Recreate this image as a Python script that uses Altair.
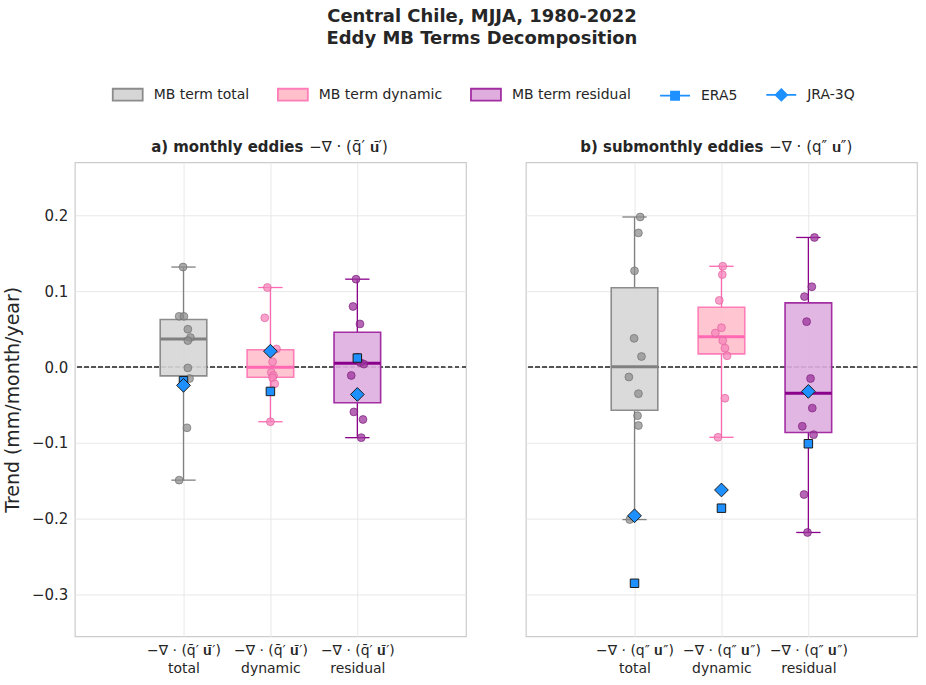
import altair as alt
import pandas as pd

# ---------------- data ----------------
categories = ["total", "dynamic", "residual"]

# panel a) monthly eddies
a_total = [0.132, 0.067, 0.067, 0.050, 0.039, 0.035, -0.001, -0.015, -0.080, -0.149]
a_dynamic = [0.105, 0.065, 0.024, 0.020, 0.007, -0.007, -0.011, -0.014, -0.022, -0.072]
a_residual = [0.116, 0.080, 0.057, 0.013, 0.006, 0.004, -0.011, -0.059, -0.069, -0.093]
# panel b) submonthly eddies
b_total = [0.198, 0.177, 0.127, 0.038, 0.014, -0.013, -0.035, -0.064, -0.077, -0.201]
b_dynamic = [0.133, 0.122, 0.088, 0.052, 0.045, 0.035, 0.025, 0.015, -0.041, -0.0925]
b_residual = [0.171, 0.106, 0.093, 0.060, -0.015, -0.054, -0.078, -0.089, -0.168, -0.218]

# horizontal jitter of the model points (category units)
jit_a_total = [-0.005, -0.05, 0.005, 0.05, 0.08, 0.05, 0.05, 0.07, 0.04, -0.05]
jit_a_dynamic = [-0.035, -0.065, 0.07, 0.01, 0.025, 0.01, 0.035, 0.025, 0.05, 0.0]
jit_a_residual = [-0.015, -0.05, 0.03, 0.0, 0.035, 0.075, -0.07, -0.04, 0.065, 0.045]
jit_b_total = [0.065, 0.045, 0.0, -0.005, 0.08, -0.065, 0.045, 0.035, 0.045, -0.055]
jit_b_dynamic = [0.015, 0.01, -0.025, 0.0, -0.07, 0.015, 0.04, 0.065, 0.04, -0.04]
jit_b_residual = [0.07, 0.04, -0.045, -0.02, 0.025, 0.045, -0.07, 0.06, -0.05, -0.01]

# reanalyses
era5_a = [-0.018, -0.032, 0.012]
era5_b = [-0.285, -0.186, -0.101]
jra3q_a = [-0.024, 0.021, -0.036]
jra3q_b = [-0.196, -0.162, -0.032]

legend_entries = ["MB term total", "MB term dynamic", "MB term residual", "ERA5", "JRA-3Q"]
y_ticks = [-0.3, -0.2, -0.1, 0.0, 0.1, 0.2]

# ---------------- tables ----------------
def points_table(lists, jits):
    rows = []
    for i, (vals, js) in enumerate(zip(lists, jits)):
        for v, j in zip(vals, js):
            rows.append({"comp": categories[i], "idx": i, "value": v, "jit": j})
    return pd.DataFrame(rows)


def refs_table(era, jra):
    rows = []
    for i in range(3):
        rows.append({"src": "ERA5", "idx": i, "value": era[i]})
        rows.append({"src": "JRA-3Q", "idx": i, "value": jra[i]})
    return pd.DataFrame(rows)


pts_a = points_table([a_total, a_dynamic, a_residual], [jit_a_total, jit_a_dynamic, jit_a_residual])
pts_b = points_table([b_total, b_dynamic, b_residual], [jit_b_total, jit_b_dynamic, jit_b_residual])
ref_a = refs_table(era5_a, jra3q_a)
ref_b = refs_table(era5_b, jra3q_b)

# ---------------- styles ----------------
FILL = "{'total':'#d6d6d6','dynamic':'#ffbfcb','residual':'#dfaedf'}[datum.comp]"
EDGE = "{'total':'#8c8c8c','dynamic':'#ff7eb9','residual':'#a22ea2'}[datum.comp]"
LINE = "{'total':'#808080','dynamic':'#ff69b4','residual':'#8b008b'}[datum.comp]"
PFILL = "{'total':'#8f8f8f','dynamic':'#f783bb','residual':'#9c339c'}[datum.comp]"
PSTROKE = "{'total':'#6e6e6e','dynamic':'#e0609c','residual':'#7a1f7a'}[datum.comp]"

W, H = 392, 475
xscale = alt.Scale(domain=[-1.25, 3.25], nice=False, zero=False)
yscale = alt.Scale(domain=[-0.355, 0.27], nice=False, zero=False)

BW = 0.268   # half box width (category units)
CW = 0.14    # half cap width


def make_panel(pts, refs, tick_math, bold_title, math_title, split_x, first):
    xax = alt.Axis(
        values=[0, 1, 2], title=None, ticks=False, domain=False, grid=True,
        gridColor="#e8e8e8", labelFontSize=14, labelPadding=7, labelLineHeight=18,
        labelColor="#262626",
        labelExpr=(
            f"datum.value == 0 ? ['{tick_math}', 'total'] : "
            f"datum.value == 1 ? ['{tick_math}', 'dynamic'] : ['{tick_math}', 'residual']"
        ),
    )
    if first:
        yax = alt.Axis(values=y_ticks, format=".1f", title="Trend (mm/month/year)",
                       ticks=False, domain=False, grid=True, gridColor="#e8e8e8",
                       labelFontSize=15, titleFontSize=19, labelPadding=7,
                       titlePadding=9, titleFontWeight="normal",
                       labelColor="#262626", titleColor="#262626")
    else:
        yax = alt.Axis(values=y_ticks, labels=False, title=None, ticks=False,
                       domain=False, grid=True, gridColor="#e8e8e8")

    base = alt.Chart(pts)
    stats = base.transform_aggregate(
        q1="q1(value)", med="median(value)", q3="q3(value)",
        vmin="min(value)", vmax="max(value)", groupby=["comp", "idx"],
    ).transform_calculate(
        xl=f"datum.idx - {BW}", xr=f"datum.idx + {BW}",
        cl=f"datum.idx - {CW}", cr=f"datum.idx + {CW}",
        fc=FILL, ec=EDGE, lc=LINE,
    )

    grid = alt.Chart(pts).mark_point(opacity=0).encode(
        x=alt.X("idx:Q", scale=xscale, axis=xax),
        y=alt.Y("value:Q", scale=yscale, axis=yax),
    )
    zero = alt.Chart(pts).mark_rule(strokeDash=[4, 3], color="#555555", strokeWidth=0.9).encode(
        y=alt.datum(0)
    )
    wlow = stats.mark_rule(strokeWidth=1.3).encode(
        x="idx:Q", y="vmin:Q", y2="q1:Q", stroke=alt.Stroke("lc:N", scale=None))
    whigh = stats.mark_rule(strokeWidth=1.3).encode(
        x="idx:Q", y="q3:Q", y2="vmax:Q", stroke=alt.Stroke("lc:N", scale=None))
    caplo = stats.mark_rule(strokeWidth=1.3).encode(
        x="cl:Q", x2="cr:Q", y="vmin:Q", stroke=alt.Stroke("lc:N", scale=None))
    caphi = stats.mark_rule(strokeWidth=1.3).encode(
        x="cl:Q", x2="cr:Q", y="vmax:Q", stroke=alt.Stroke("lc:N", scale=None))
    box = stats.mark_rect(strokeWidth=1.6, fillOpacity=0.9).encode(
        x="xl:Q", x2="xr:Q", y="q1:Q", y2="q3:Q",
        fill=alt.Fill("fc:N", scale=None), stroke=alt.Stroke("ec:N", scale=None))
    med = stats.mark_rule(strokeWidth=3).encode(
        x="xl:Q", x2="xr:Q", y="med:Q", stroke=alt.Stroke("lc:N", scale=None))
    dots = base.transform_calculate(
        xj="datum.idx + datum.jit", pf=PFILL, ps=PSTROKE
    ).mark_point(filled=True, shape="circle", size=62, opacity=1, fillOpacity=0.75,
                 strokeOpacity=0.85, strokeWidth=0.8).encode(
        x="xj:Q", y="value:Q",
        fill=alt.Fill("pf:N", scale=None), stroke=alt.Stroke("ps:N", scale=None))
    era = alt.Chart(refs).transform_filter("datum.src == 'ERA5'").mark_point(
        shape="square", filled=True, size=72, opacity=1, fill="#1e90ff",
        stroke="#1a1a1a", strokeWidth=1).encode(x="idx:Q", y="value:Q")
    jra = alt.Chart(refs).transform_filter("datum.src == 'JRA-3Q'").mark_point(
        shape="diamond", filled=True, size=190, opacity=1, fill="#1e90ff",
        stroke="#1a1a1a", strokeWidth=1).encode(x="idx:Q", y="value:Q")

    one = pd.DataFrame({"k": [0]})
    t_bold = alt.Chart(one).mark_text(align="right", baseline="middle", fontSize=15,
                                      fontWeight="bold", color="#262626").encode(
        x=alt.value(split_x), y=alt.value(-15), text=alt.value(bold_title))
    t_math = alt.Chart(one).mark_text(align="left", baseline="middle", fontSize=15,
                                      color="#262626").encode(
        x=alt.value(split_x + 6), y=alt.value(-15), text=alt.value(math_title))

    layers = [grid, zero, wlow, whigh, caplo, caphi, box, med, dots, era, jra, t_bold, t_math]

    if first:
        title = alt.Chart(one).mark_text(
            align="center", baseline="alphabetic", fontSize=18, fontWeight="bold",
            color="#262626", lineBreak="\n", lineHeight=22).encode(
            x=alt.value(408), y=alt.value(-141),
            text=alt.value("Central Chile, MJJA, 1980-2022\nEddy MB Terms Decomposition"))
        leg_df = pd.DataFrame({"entry": legend_entries})
        legend = alt.Chart(leg_df).transform_filter("false").mark_point(
            filled=True, opacity=1).encode(
            x=alt.value(0), y=alt.value(0),
            color=alt.Color("entry:N", scale=alt.Scale(
                domain=legend_entries,
                range=["#d6d6d6", "#ffbfcb", "#dfaedf", "#1e90ff", "#1e90ff"]),
                legend=alt.Legend(
                    title=None, orient="none", legendX=37, legendY=-84,
                    direction="horizontal", symbolSize=900, symbolOpacity=1,
                    symbolStrokeWidth=1.8, labelFontSize=14, labelOffset=10,
                    columnPadding=24.5, labelColor="#262626", padding=0)),
            stroke=alt.Stroke("entry:N", scale=alt.Scale(
                domain=legend_entries,
                range=["#8c8c8c", "#ff7eb9", "#a22ea2", "#1e90ff", "#1e90ff"])),
            shape=alt.Shape("entry:N", scale=alt.Scale(
                domain=legend_entries,
                range=["M-1,-0.4H1V0.4H-1Z", "M-1,-0.4H1V0.4H-1Z", "M-1,-0.4H1V0.4H-1Z",
                       "M-1,0H1M-0.27,-0.27H0.27V0.27H-0.27Z",
                       "M-1,0H1M0,-0.38L0.38,0L0,0.38L-0.38,0Z"])),
        )
        layers = layers + [title, legend]

    return alt.layer(*layers).resolve_scale(
        fill="independent", stroke="independent", color="independent", shape="independent"
    ).properties(width=W, height=H)


tick_a = "−∇ · (q̄′ 𝐮̄′)"
tick_b = "−∇ · (q″ 𝐮″)"

pa = make_panel(pts_a, ref_a, tick_a, "a) monthly eddies", "−∇ · (q̄′ 𝐮̄′)", 229, True)
pb = make_panel(pts_b, ref_b, tick_b, "b) submonthly eddies", "−∇ · (q″ 𝐮″)", 238, False)

chart = alt.hconcat(pa, pb, spacing=60, bounds="flush").properties(
    padding={"left": 2, "top": 6, "right": 7, "bottom": 4},
).configure(font="DejaVu Sans").configure_view(stroke="#cccccc", strokeWidth=1.2)

chart.save("out.html", embed_options={"renderer": "svg", "actions": False})
